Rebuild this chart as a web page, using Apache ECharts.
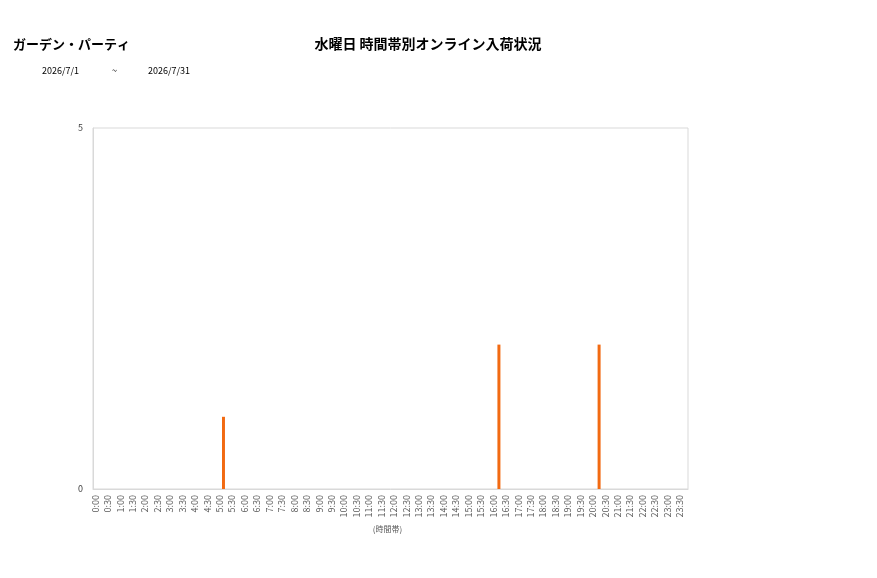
<!DOCTYPE html>
<html>
<head>
<meta charset="utf-8">
<script src="https://cdn.jsdelivr.net/npm/echarts@6/dist/echarts.min.js"></script>
<style>
  html, body { margin: 0; padding: 0; background: #fff; }
  #grafico { width: 877px; height: 578px; }
</style>
</head>
<body>
<div id="grafico"></div>
<script>
// time slots 0:00 .. 23:30
var horas = ["0:00","0:30","1:00","1:30","2:00","2:30","3:00","3:30","4:00","4:30",
  "5:00","5:30","6:00","6:30","7:00","7:30","8:00","8:30","9:00","9:30",
  "10:00","10:30","11:00","11:30","12:00","12:30","13:00","13:30","14:00","14:30",
  "15:00","15:30","16:00","16:30","17:00","17:30","18:00","18:30","19:00","19:30",
  "20:00","20:30","21:00","21:30","22:00","22:30","23:00","23:30"];
var valores = [0,0,0,0,0,0,0,0,0,0,
  1,0,0,0,0,0,0,0,0,0,
  0,0,0,0,0,0,0,0,0,0,
  0,0,2,0,0,0,0,0,0,0,
  2,0,0,0,0,0,0,0];
var tienda = "ガーデン・パーティ";
var titulo = "水曜日 時間帯別オンライン入荷状況";
var desde = "2026/7/1";
var hasta = "2026/7/31";

var fuente = "'Noto Sans CJK JP', 'Noto Sans', sans-serif";
var gris = "#d9d9d9";

echarts.init(document.querySelector("#grafico")).setOption({
  animation: false,
  textStyle: { fontFamily: fuente },
  title: [
    { text: tienda, left: 13, top: 38, padding: 0,
      textStyle: { fontSize: 13, fontWeight: "bold", color: "#000", fontFamily: fuente } },
    { text: titulo, left: 428, top: 37, padding: 0, textAlign: "center",
      textStyle: { fontSize: 14, fontWeight: "bold", color: "#000", fontFamily: fuente } },
    { text: desde, left: 42, top: 66, padding: 0, textStyle: { fontSize: 9, fontWeight: "normal", color: "#000" } },
    { text: "~", left: 112, top: 66, padding: 0, textStyle: { fontSize: 9, fontWeight: "normal", color: "#000" } },
    { text: hasta, left: 148, top: 66, padding: 0, textStyle: { fontSize: 9, fontWeight: "normal", color: "#000" } }
  ],
  /* grid 0: frame + y axis, grid 1: x labels, grid 2: bars */
  grid: [
    { left: 93, right: 189, top: 128, bottom: 89, show: true, borderColor: gris, borderWidth: 1 },
    { left: 89, right: 191, top: 128, bottom: 89 },
    { left: 92, right: 184, top: 128, bottom: 89 }
  ],
  xAxis: [
    { type: "category", gridIndex: 0, data: horas,
      axisLine: { show: true, lineStyle: { color: gris } },
      axisTick: { show: false }, axisLabel: { show: false } },
    { type: "category", gridIndex: 1, data: horas,
      name: "(時間帯)", nameLocation: "middle", nameGap: 35,
      nameTextStyle: { fontSize: 8, color: "#595959" },
      axisLine: { show: false }, axisTick: { show: false },
      axisLabel: { interval: 0, rotate: 90, fontSize: 9, color: "#595959", margin: 6 } },
    { type: "category", gridIndex: 2, data: horas,
      axisLine: { show: false }, axisTick: { show: false }, axisLabel: { show: false } }
  ],
  yAxis: [
    { type: "value", gridIndex: 0, min: 0, max: 5, interval: 5,
      axisLine: { show: true, lineStyle: { color: gris } },
      axisTick: { show: false }, splitLine: { show: false },
      axisLabel: { fontSize: 9, color: "#404040", margin: 10 } },
    { type: "value", gridIndex: 1, min: 0, max: 5, interval: 5, show: false },
    { type: "value", gridIndex: 2, min: 0, max: 5, interval: 5, show: false }
  ],
  series: [
    {
      type: "bar",
      xAxisIndex: 2,
      yAxisIndex: 2,
      data: valores,
      barWidth: 3,
      itemStyle: { color: "#F26A12" }
    }
  ]
});
</script>
</body>
</html>
